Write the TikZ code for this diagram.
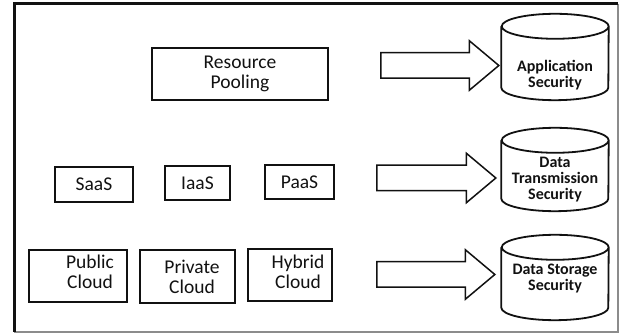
\documentclass[tikz,border=0pt]{standalone}
\usepackage{fontspec}
\setmainfont{Carlito}
\usetikzlibrary{positioning,shapes.arrows}
\definecolor{ink}{HTML}{111111}
\definecolor{muted}{HTML}{8C8C8C}
\tikzset{
  box/.style={draw=ink,line width=1.8pt,inner sep=0pt,align=center,font=\fontsize{19.5}{20}\selectfont,text=ink},
  txt/.style={align=center,font=\fontsize{19.5}{20}\selectfont,text=ink},
  db/.style={inner sep=0pt,minimum width=107pt},
  dbline/.style={draw=ink,line width=1.8pt},
  dbtxt/.style={align=center,font=\fontsize{16}{16}\selectfont\bfseries,text=ink},
  blk/.style={single arrow,draw=ink,line width=1.5pt,inner xsep=0pt,inner ysep=12pt,single arrow head extend=12pt,single arrow tip angle=80,minimum height=118pt,anchor=tip},
}
% drum outline round a db node: body plus the top lid
\newcommand{\drum}[1]{%
  \draw[dbline] ([yshift=-12.5pt]#1.north west) -- ([yshift=12.5pt]#1.south west)
    arc[start angle=180,end angle=360,x radius=53.5pt,y radius=12.5pt]
    -- ([yshift=-12.5pt]#1.north east)
    arc[start angle=0,end angle=360,x radius=53.5pt,y radius=12.5pt];}
\begin{document}
\begin{tikzpicture}[x=1pt,y=1pt]
  \useasboundingbox (0,0) rectangle (621,334);
  % outer frame, heavy on the left and top
  \draw[muted,line width=1.2pt] (618,330) -- (618,2) -- (14,2);
  \draw[ink,line width=3pt] (14,2) -- (14,330) -- (618,330);

  % cloud side
  \node[box,minimum width=176pt,minimum height=52pt] (pool) at (240,260) {Resource\\Pooling};
  \node[box,minimum width=78pt,minimum height=35pt] (saas) at (94,149.5) {SaaS};
  \node[box,minimum width=65pt,minimum height=34pt] (iaas) at (197.5,151) {IaaS};
  \node[box,minimum width=69pt,minimum height=34pt] (paas) at (299.5,152) {PaaS};
  \node[box,minimum width=98pt,minimum height=52pt,label={[txt,xshift=12pt,yshift=4pt]center:{Public\\Cloud}}] (pub) at (78,58) {};
  \node[box,minimum width=95pt,minimum height=53pt,label={[txt,xshift=4.5pt]center:{Private\\Cloud}}] (priv) at (187.5,57.5) {};
  \node[box,minimum width=84pt,minimum height=52pt,label={[txt,xshift=8pt,yshift=3pt]center:{Hybrid\\Cloud}}] (hyb) at (290,59) {};

  % security side
  \node[db,minimum height=86pt,label={[dbtxt,yshift=-18pt]center:{Application\\Security}}] (app) at (555,277) {};
  \node[db,minimum height=83pt,label={[dbtxt,yshift=-10.5pt]center:{Data\\Transmission\\Security}}] (trans) at (555,164.5) {};
  \node[db,minimum height=85pt,label={[dbtxt,yshift=-1pt]center:{Data Storage\\Security}}] (store) at (555,56.5) {};
  \drum{app} \drum{trans} \drum{store}

  % block arrows
  \node[blk] (ar1) at (500,268.5) {};
  \node[blk,minimum height=119pt] (ar2) at (497,156) {};
  \node[blk] (ar3) at (496,59.5) {};
\end{tikzpicture}
\end{document}
